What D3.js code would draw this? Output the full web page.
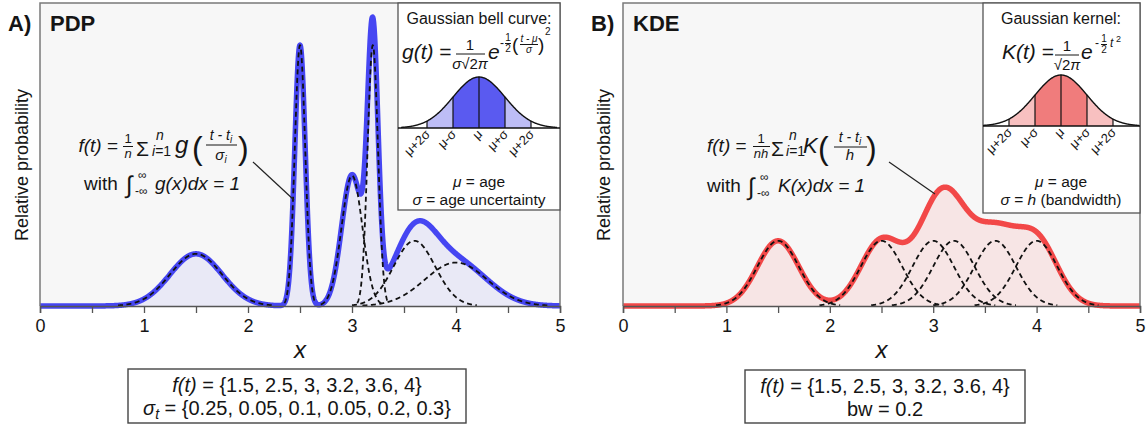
<!DOCTYPE html>
<html><head><meta charset="utf-8">
<script src="https://cdn.jsdelivr.net/npm/d3@7"></script>
<style>
body{margin:0;background:#fff}
svg{display:block}
text{font-family:"Liberation Sans",Arial,Helvetica,sans-serif;fill:#151515}
</style>
</head><body>
<svg id="chart" width="1148" height="427"></svg>
<script>
// ---------- data ----------
const ages = [1.5, 2.5, 3, 3.2, 3.6, 4];
const sigmas = [0.25, 0.05, 0.1, 0.05, 0.2, 0.3];
const bandwidth = 0.2;
const xTickValues = [0, 0.5, 1, 1.5, 2, 2.5, 3, 3.5, 4, 4.5, 5];
const xDomain = [0, 5];
const yDomain = [0, 1.545];
const insetTickOffsets = [-2, -1, 0, 1, 2];
const insetTickLabels = ["μ+2σ", "μ-σ", "μ", "μ+σ", "μ+2σ"];
const ageLabelText = "{1.5, 2.5, 3, 3.2, 3.6, 4}";
const sigmaLabelText = "{0.25, 0.05, 0.1, 0.05, 0.2, 0.3}";
const bwLabelText = "bw = 0.2";

// ---------- helpers ----------
const svg = d3.select("#chart");
const SQ2PI = Math.sqrt(2 * Math.PI);
const pdf = (x, m, s) => Math.exp(-0.5 * ((x - m) / s) ** 2) / (s * SQ2PI);
const grid = d3.range(xDomain[0], xDomain[1] + 1e-9, 0.002);

function T(g, x, y, s, o = {}) {
  const t = g.append("text").attr("x", x).attr("y", y).text(s)
    .style("font-size", (o.size || 16) + "px")
    .attr("text-anchor", o.anchor || "start");
  if (o.italic) t.style("font-style", "italic");
  if (o.bold) t.style("font-weight", "bold");
  return t;
}
function rich(g, x, y, parts, o = {}) {
  const t = g.append("text").attr("x", x).attr("y", y)
    .style("font-size", (o.size || 16) + "px")
    .attr("text-anchor", o.anchor || "start");
  parts.forEach(p => {
    const ts = t.append("tspan").text(p.t);
    if (p.i) ts.style("font-style", "italic");
    if (p.dy) ts.attr("dy", p.dy);
    if (p.fs) ts.style("font-size", p.fs + "px");
  });
  return t;
}
function bar(g, x1, x2, y) {
  g.append("line").attr("x1", x1).attr("x2", x2).attr("y1", y).attr("y2", y)
    .attr("stroke", "#151515").attr("stroke-width", 1);
}

// ---------- panels ----------
const panels = [
  { x0: 40, x1: 560, tag: "A)", title: "PDP", line: "#4646f2", fill: "#e9e9f6",
    sd: sigmas, labelX: 22 },
  { x0: 623, x1: 1140, tag: "B)", title: "KDE", line: "#f24848", fill: "#f7e5e5",
    sd: ages.map(() => bandwidth), labelX: 604 }
];
const yTop = 3, yBase = 306;

panels.forEach(p => {
  const g = svg.append("g");
  const x = d3.scaleLinear().domain(xDomain).range([p.x0, p.x1]);
  const y = d3.scaleLinear().domain(yDomain).range([yBase, yTop]);
  const n = ages.length;
  const total = grid.map(v => ({ x: v, y: d3.sum(ages, (a, i) => pdf(v, a, p.sd[i])) / n }));

  g.append("rect").attr("x", p.x0).attr("y", yTop).attr("width", p.x1 - p.x0)
    .attr("height", yBase - yTop).attr("fill", "#f7f7f7");

  g.append("path").datum(total).attr("fill", p.fill)
    .attr("d", d3.area().x(d => x(d.x)).y0(yBase).y1(d => y(d.y)));

  g.append("path").datum(total).attr("fill", "none").attr("stroke", p.line)
    .attr("stroke-width", 5.5).attr("stroke-linejoin", "round")
    .attr("d", d3.line().x(d => x(d.x)).y(d => y(d.y)));

  ages.forEach((a, i) => {
    const s = p.sd[i];
    const pts = grid.filter(v => v >= a - 3 * s && v <= a + 3 * s)
      .map(v => ({ x: v, y: pdf(v, a, s) / n }));
    g.append("path").datum(pts).attr("fill", "none").attr("stroke", "#111")
      .attr("stroke-width", 1.8).attr("stroke-dasharray", "5,3.5")
      .attr("d", d3.line().x(d => x(d.x)).y(d => y(d.y)));
  });

  // frame
  g.append("path").attr("fill", "none").attr("stroke", "#7a7a7a").attr("stroke-width", 1.5)
    .attr("d", `M${p.x0},${yBase}V${yTop}H${p.x1}V${yBase}`);

  // x axis
  const ax = g.append("g").attr("transform", `translate(0,${yBase})`)
    .call(d3.axisBottom(x).tickValues(xTickValues).tickSize(7).tickPadding(6)
      .tickFormat(d => Number.isInteger(d) ? d : ""));
  ax.select(".domain").attr("stroke", "#555").attr("stroke-width", 1.5);
  ax.selectAll(".tick line").attr("stroke", "#555").attr("stroke-width", 1.3);
  ax.selectAll(".tick text").style("font-size", "18px")
    .style("font-family", '"Liberation Sans",Arial,sans-serif').attr("fill", "#151515");

  T(g, (p.x0 + p.x1) / 2, 358, "x", { size: 24, italic: true, anchor: "middle" });
  T(g, 0, 0, "Relative probability", { size: 18, anchor: "middle" })
    .attr("transform", `translate(${p.labelX + 6},165) rotate(-90)`);
  T(g, p.x0 - 32, 31, p.tag, { size: 22, bold: true });
  T(g, p.x0 + 10, 31, p.title, { size: 22, bold: true });
});

// ---------- insets ----------
function inset(cfg) {
  const g = svg.append("g");
  g.append("rect").attr("x", cfg.bx0).attr("y", yTop).attr("width", cfg.bx1 - cfg.bx0)
    .attr("height", cfg.by1 - yTop).attr("fill", "#fff").attr("stroke", "#555").attr("stroke-width", 1.3);
  const xs = d3.scaleLinear().domain([-3, 3]).range([cfg.mu - 78, cfg.mu + 78]);
  const ys = d3.scaleLinear().domain([0, pdf(0, 0, 1)]).range([cfg.base, cfg.base - 51]);
  const seg = (a, b) => d3.range(a, b + 1e-9, 0.02).map(v => [v, pdf(v, 0, 1)]);
  const area = d3.area().x(d => xs(d[0])).y0(cfg.base).y1(d => ys(d[1]));
  g.append("path").datum(seg(-2, -1)).attr("fill", cfg.light).attr("d", area);
  g.append("path").datum(seg(1, 2)).attr("fill", cfg.light).attr("d", area);
  g.append("path").datum(seg(-1, 1)).attr("fill", cfg.dark).attr("d", area);
  g.append("line").attr("x1", cfg.bx0).attr("x2", cfg.bx1).attr("y1", cfg.base).attr("y2", cfg.base)
    .attr("stroke", "#111").attr("stroke-width", 1.3);
  g.append("path").datum(seg(-3, 3)).attr("fill", "none").attr("stroke", "#111").attr("stroke-width", 1.4)
    .attr("d", d3.line().x(d => xs(d[0])).y(d => ys(d[1])));
  insetTickOffsets.forEach((k, i) => {
    g.append("line").attr("x1", xs(k)).attr("x2", xs(k)).attr("y1", cfg.base)
      .attr("y2", ys(pdf(k, 0, 1))).attr("stroke", "#111").attr("stroke-width", 1.2);
    T(g, 0, 0, insetTickLabels[i], { size: 13, anchor: "end" })
      .attr("transform", `translate(${xs(k) + 4},${cfg.base + 7}) rotate(-45)`);
  });
  T(g, cfg.mu, 24, cfg.head, { size: 16, anchor: "middle" });
  rich(g, cfg.mu, 187, [{ t: "μ", i: 1 }, { t: " = age" }], { size: 15.5, anchor: "middle" });
  rich(g, cfg.mu, 205, cfg.sigmaLine, { size: 15.5, anchor: "middle" });
  return g;
}

const gl = inset({ bx0: 398, bx1: 560, by1: 210, mu: 479, base: 128,
  dark: "#5a5af0", light: "#bdbdf6", head: "Gaussian bell curve:",
  sigmaLine: [{ t: "σ", i: 1 }, { t: " = age uncertainty" }] });
// g(t) formula
rich(gl, 402, 59, [{ t: "g(t)", i: 1 }, { t: " =" }], { size: 21 });
T(gl, 470, 50, "1", { size: 15, anchor: "middle" });
bar(gl, 456, 485, 54);
rich(gl, 470, 69, [{ t: "σ", i: 1 }, { t: "√2" }, { t: "π", i: 1 }], { size: 15, anchor: "middle" });
T(gl, 488, 59, "e", { size: 21, italic: true });
T(gl, 500, 47, "-", { size: 12 });
T(gl, 508, 41, "1", { size: 10, anchor: "middle" });
bar(gl, 505, 511, 43.5);
T(gl, 508, 52, "2", { size: 10, anchor: "middle" });
T(gl, 512, 51, "(", { size: 19 });
T(gl, 529, 42, "t - μ", { size: 10, italic: true, anchor: "middle" });
bar(gl, 520, 538, 44.5);
T(gl, 529, 53, "σ", { size: 10, italic: true, anchor: "middle" });
T(gl, 538, 51, ")", { size: 19 });
T(gl, 545, 35, "2", { size: 10 });

const gr = inset({ bx0: 983, bx1: 1140, by1: 213, mu: 1061, base: 126,
  dark: "#f07c7c", light: "#f8c0c0", head: "Gaussian kernel:",
  sigmaLine: [{ t: "σ", i: 1 }, { t: " = " }, { t: "h", i: 1 }, { t: " (bandwidth)" }] });
rich(gr, 1002, 59, [{ t: "K(t)", i: 1 }, { t: " =" }], { size: 21 });
T(gr, 1067, 51, "1", { size: 15, anchor: "middle" });
bar(gr, 1055, 1079, 55);
rich(gr, 1067, 70, [{ t: "√2" }, { t: "π", i: 1 }], { size: 15, anchor: "middle" });
T(gr, 1081, 59, "e", { size: 21, italic: true });
T(gr, 1095, 47, "-", { size: 12 });
T(gr, 1104, 42, "1", { size: 10, anchor: "middle" });
bar(gr, 1101, 1107, 44.5);
T(gr, 1104, 53, "2", { size: 10, anchor: "middle" });
T(gr, 1110, 47, "t", { size: 12, italic: true });
T(gr, 1116, 42, "2", { size: 9 });

// ---------- annotations ----------
const ga = svg.append("g");
// PDP formula
rich(ga, 118, 152, [{ t: "f(t)", i: 1 }, { t: " =" }], { size: 19, anchor: "end" });
T(ga, 128, 143, "1", { size: 13, anchor: "middle" });
bar(ga, 123, 133, 146.5);
T(ga, 128, 158, "n", { size: 13, italic: true, anchor: "middle" });
T(ga, 136, 156, "Σ", { size: 21 });
T(ga, 156, 140, "n", { size: 14, italic: true });
rich(ga, 152, 156, [{ t: "i", i: 1 }, { t: "=1" }], { size: 14 });
T(ga, 175, 153, "g", { size: 24, italic: true });
T(ga, 192, 159, "(", { size: 32 });
rich(ga, 221, 140, [{ t: "t - t", i: 1 }, { t: "i", i: 1, fs: 10, dy: 3 }], { size: 14, anchor: "middle" });
bar(ga, 206, 237, 145);
rich(ga, 221, 160, [{ t: "σ", i: 1 }, { t: "i", i: 1, fs: 10, dy: 3 }], { size: 15, anchor: "middle" });
T(ga, 238, 159, ")", { size: 32 });
// with integral
T(ga, 84, 190, "with", { size: 19 });
T(ga, 126, 193, "∫", { size: 24, italic: true });
T(ga, 138, 179, "∞", { size: 12 });
T(ga, 135, 195, "-∞", { size: 12 });
T(ga, 155, 190, "g(x)dx = 1", { size: 19, italic: true });
ga.append("line").attr("x1", 253).attr("y1", 162).attr("x2", 294).attr("y2", 200)
  .attr("stroke", "#222").attr("stroke-width", 1.2);

// KDE formula
rich(ga, 707, 152, [{ t: "f(t)", i: 1 }, { t: " =" }], { size: 19 });
T(ga, 761, 143, "1", { size: 13, anchor: "middle" });
bar(ga, 753, 770, 146.5);
T(ga, 761, 158, "nh", { size: 13, italic: true, anchor: "middle" });
T(ga, 771, 156, "Σ", { size: 21 });
T(ga, 789, 140, "n", { size: 14, italic: true });
rich(ga, 786, 156, [{ t: "i", i: 1 }, { t: "=1" }], { size: 14 });
T(ga, 803, 153, "K", { size: 22, italic: true });
T(ga, 818, 159, "(", { size: 32 });
rich(ga, 850, 142, [{ t: "t - t", i: 1 }, { t: "i", i: 1, fs: 10, dy: 3 }], { size: 14, anchor: "middle" });
bar(ga, 834, 867, 147);
T(ga, 850, 160, "h", { size: 15, italic: true, anchor: "middle" });
T(ga, 866, 159, ")", { size: 32 });
T(ga, 707, 192, "with", { size: 19 });
T(ga, 748, 195, "∫", { size: 24, italic: true });
T(ga, 760, 181, "∞", { size: 12 });
T(ga, 757, 197, "-∞", { size: 12 });
T(ga, 778, 192, "K(x)dx = 1", { size: 19, italic: true });
ga.append("line").attr("x1", 889).attr("y1", 162).attr("x2", 935).attr("y2", 194)
  .attr("stroke", "#222").attr("stroke-width", 1.2);

// ---------- bottom boxes ----------
function box(x0, x1, y0, y1, lines) {
  const g = svg.append("g");
  g.append("rect").attr("x", x0).attr("y", y0).attr("width", x1 - x0).attr("height", y1 - y0)
    .attr("fill", "#fff").attr("stroke", "#444").attr("stroke-width", 1.4);
  lines.forEach((parts, i) => rich(g, (x0 + x1) / 2, y0 + 23 + i * 23, parts, { size: 20, anchor: "middle" }));
}
box(128, 466, 369, 423, [
  [{ t: "f(t)", i: 1 }, { t: " = " + ageLabelText }],
  [{ t: "σ", i: 1 }, { t: "t", i: 1, fs: 14, dy: 4 }, { t: " = " + sigmaLabelText, dy: -4 }]
]);
box(745, 1025, 370, 423, [
  [{ t: "f(t)", i: 1 }, { t: " = " + ageLabelText }],
  [{ t: bwLabelText }]
]);
</script>
</body></html>
